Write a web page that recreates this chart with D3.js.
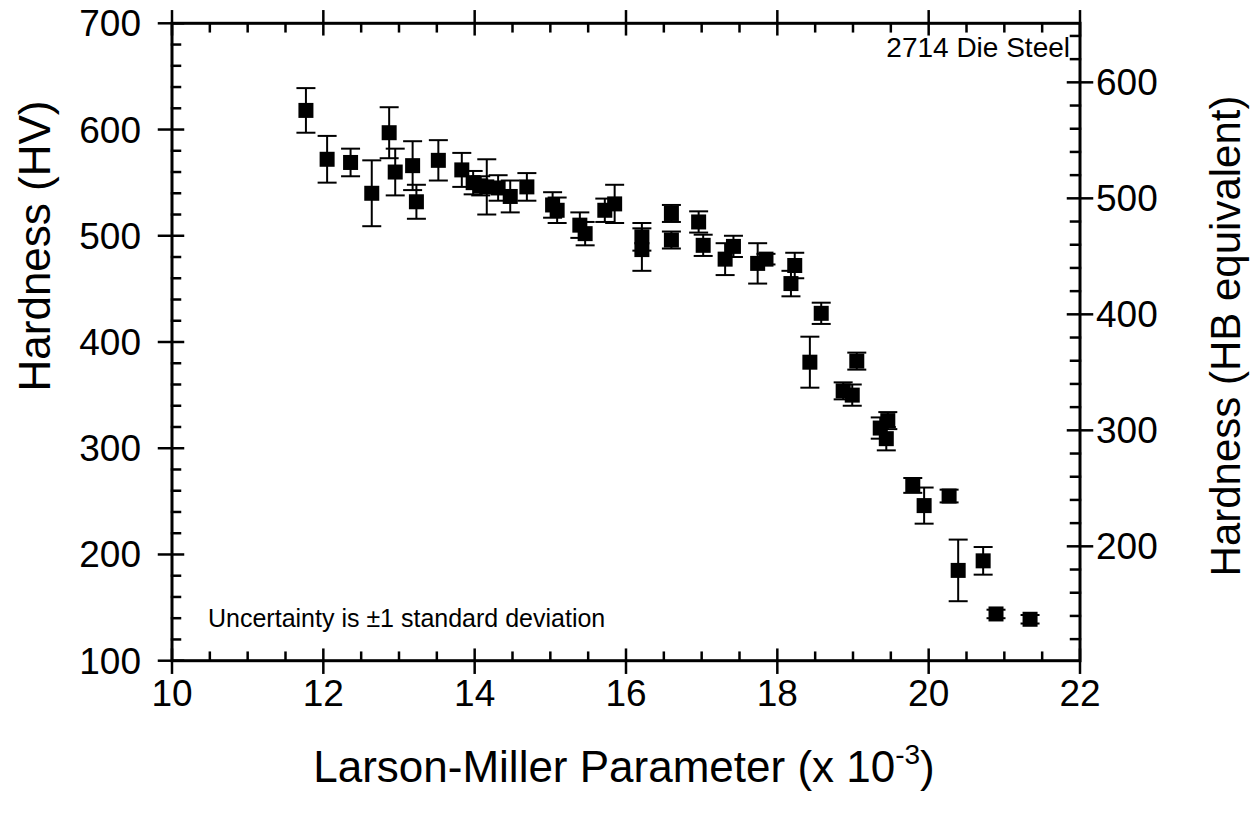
<!DOCTYPE html>
<html><head><meta charset="utf-8">
<script src="https://cdn.jsdelivr.net/npm/d3@7"></script>
<style>body{margin:0;background:#fff}svg{display:block}text{font-family:"Liberation Sans",Arial,sans-serif;fill:#000}</style>
</head><body>
<svg id="c" width="1258" height="815"></svg>
<script>
// Larson-Miller parameter (x10^-3)
const lmp = [11.77,12.05,12.36,12.64,12.87,12.95,13.18,13.23,13.52,13.83,13.98,14.08,14.16,14.31,14.47,14.69,15.03,15.09,15.39,15.46,15.72,15.85,16.21,16.21,16.60,16.60,16.96,17.02,17.31,17.42,17.74,17.85,18.18,18.23,18.43,18.58,18.87,18.99,19.05,19.36,19.44,19.46,19.79,19.94,20.27,20.39,20.72,20.89,21.34];
// Hardness (HV)
const hv = [618,572,569,540,597,560,566,532,571,562,550,547,546,545,537,546,529,524,510,502,524,530,499,487,521,496,513,491,478,490,474,478,455,472,381,427,354,350,382,319,309,326,265,246,255,185,194,144,139];
// ±1 standard deviation (HV)
const sd = [21,22,13,31,24,22,23,16,19,16,11,9,26,12,15,13,12,12,12,11,11,18,13,20,8,8,10,10,15,10,19,5,12,12,24,10,8,10,8,10,11,8,7,17,6,29,13,4,4];
const xTicks = [10,12,14,16,18,20,22];
const yTicks = [100,200,300,400,500,600,700];
const hbTicks = [200,300,400,500,600];
const hbDomain = [101.4,650.9];

const svg = d3.select("#c");
const L=172, R=1080, T=23.3, B=660.7;
const x = d3.scaleLinear().domain([10,22]).range([L,R]);
const y = d3.scaleLinear().domain([100,700]).range([B,T]);
const yHB = d3.scaleLinear().domain(hbDomain).range([B,T]);

const pts = lmp.map((v,i)=>({x:v,y:hv[i],e:sd[i]}));

// error bars
const eb = svg.append("g").attr("stroke","#000").attr("stroke-width",2);
pts.forEach(p=>{
  const cx=x(p.x), y1=y(p.y+p.e), y2=y(p.y-p.e);
  eb.append("line").attr("x1",cx).attr("x2",cx).attr("y1",y1).attr("y2",y2);
  eb.append("line").attr("x1",cx-9.5).attr("x2",cx+9.5).attr("y1",y1).attr("y2",y1);
  eb.append("line").attr("x1",cx-9.5).attr("x2",cx+9.5).attr("y1",y2).attr("y2",y2);
});
svg.append("g").selectAll("rect").data(pts).join("rect")
  .attr("x",d=>x(d.x)-7.5).attr("y",d=>y(d.y)-7.5).attr("width",15).attr("height",15).attr("fill","#000");

// axes frame
const ax = svg.append("g").attr("stroke","#000").attr("stroke-linecap","square");
ax.append("rect").attr("x",L).attr("y",T).attr("width",R-L).attr("height",B-T).attr("fill","none").attr("stroke-width",3);
const tw=2.5;
d3.range(10,22.01,0.5).forEach(v=>{
  const major = Math.abs(v-Math.round(v))<1e-6 && Math.round(v)%2===0;
  const px=x(v);
  if(major){
    ax.append("line").attr("x1",px).attr("x2",px).attr("y1",B-11).attr("y2",B+12).attr("stroke-width",tw);
    ax.append("line").attr("x1",px).attr("x2",px).attr("y1",T-12).attr("y2",T+11).attr("stroke-width",tw);
  } else {
    ax.append("line").attr("x1",px).attr("x2",px).attr("y1",B-8).attr("y2",B).attr("stroke-width",tw);
    ax.append("line").attr("x1",px).attr("x2",px).attr("y1",T).attr("y2",T+8).attr("stroke-width",tw);
  }
});
d3.range(100,700.1,20).forEach(v=>{
  const major = v%100===0; const py=y(v);
  if(major) ax.append("line").attr("x1",L-13).attr("x2",L+11).attr("y1",py).attr("y2",py).attr("stroke-width",tw);
  else ax.append("line").attr("x1",L).attr("x2",L+8).attr("y1",py).attr("y2",py).attr("stroke-width",tw);
});
d3.range(120,650,20).forEach(v=>{
  const major = v%100===0; const py=yHB(v);
  if(major) ax.append("line").attr("x1",R-12).attr("x2",R+12).attr("y1",py).attr("y2",py).attr("stroke-width",tw);
  else ax.append("line").attr("x1",R-9).attr("x2",R).attr("y1",py).attr("y2",py).attr("stroke-width",tw);
});

// tick labels
const fs=37;
svg.append("g").selectAll("text").data(xTicks).join("text")
  .attr("x",d=>x(d)).attr("y",B+45).attr("text-anchor","middle").attr("font-size",fs).text(d=>d);
svg.append("g").selectAll("text").data(yTicks).join("text")
  .attr("x",L-31).attr("y",d=>y(d)+13).attr("text-anchor","end").attr("font-size",fs).text(d=>d);
svg.append("g").selectAll("text").data(hbTicks).join("text")
  .attr("x",R+16).attr("y",d=>yHB(d)+13).attr("text-anchor","start").attr("font-size",fs).text(d=>d);

// titles
const xt = svg.append("text").attr("x",624).attr("y",782).attr("text-anchor","middle").attr("font-size",44);
xt.append("tspan").text("Larson-Miller Parameter (x 10");
xt.append("tspan").attr("font-size",28).attr("dy",-18).text("-3");
xt.append("tspan").attr("dy",18).text(")");
svg.append("text").attr("transform","translate(50,246) rotate(-90)").attr("text-anchor","middle").attr("font-size",44).text("Hardness (HV)");
svg.append("text").attr("transform","translate(1240,336) rotate(-90)").attr("text-anchor","middle").attr("font-size",42).text("Hardness (HB equivalent)");
svg.append("text").attr("x",1070).attr("y",57).attr("text-anchor","end").attr("font-size",28).text("2714 Die Steel");
svg.append("text").attr("x",208).attr("y",627).attr("text-anchor","start").attr("font-size",25).text("Uncertainty is \u00b11 standard deviation");
</script>
</body></html>
